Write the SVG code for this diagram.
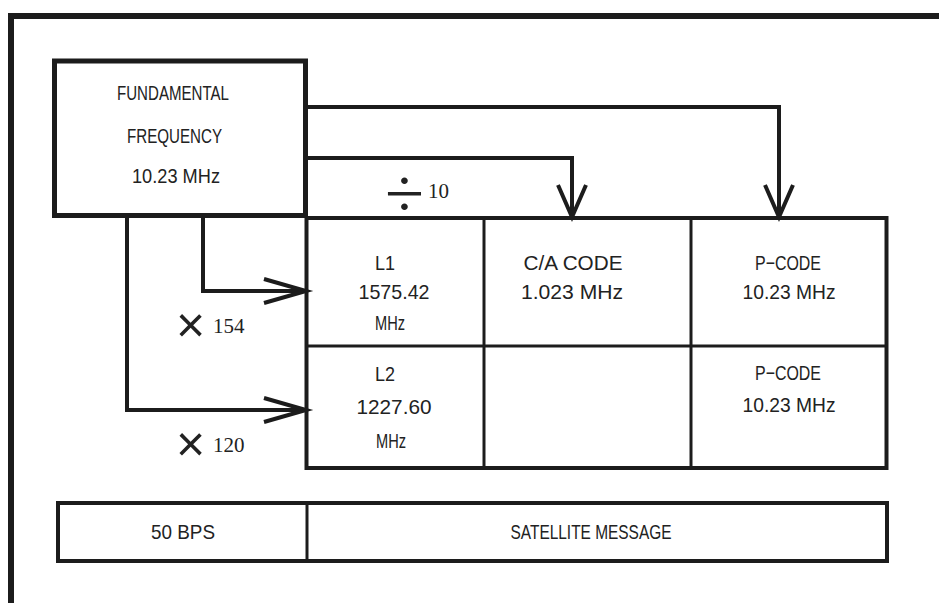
<svg xmlns="http://www.w3.org/2000/svg" width="939" height="603" viewBox="0 0 939 603">
<style>
.frame{fill:none;stroke:#1c1c1c;stroke-width:6}
.box{fill:none;stroke:#1c1c1c;stroke-width:5}
.tbl{fill:none;stroke:#1c1c1c;stroke-width:4}
.div{fill:none;stroke:#1c1c1c;stroke-width:3}
.wire{fill:none;stroke:#1c1c1c;stroke-width:4}
.t{font-family:"Liberation Sans",Arial,sans-serif;font-size:21px;fill:#222;text-anchor:middle}
.s{font-family:"Liberation Serif","Times New Roman",serif;font-size:21px;fill:#222}
.sym{font-family:"Liberation Sans",Arial,sans-serif;fill:#222}
</style>
<defs>
<marker id="arrR" markerUnits="userSpaceOnUse" markerWidth="60" markerHeight="60" refX="0" refY="0" viewBox="-50 -30 60 60" orient="auto" overflow="visible">
<path d="M-42,-12 L0,0 L-42,12" fill="none" stroke="#1c1c1c" stroke-width="4"/>
</marker>
<marker id="arrD" markerUnits="userSpaceOnUse" markerWidth="60" markerHeight="60" refX="0" refY="0" viewBox="-50 -30 60 60" orient="auto" overflow="visible">
<path d="M-32,-14 L0,0 L-32,14" fill="none" stroke="#1c1c1c" stroke-width="4"/>
</marker>
</defs>
<rect width="939" height="603" fill="#fff"/>
<path class="frame" d="M11,603 V16 H939"/>

<g id="fundamental">
<rect class="box" x="54.5" y="61" width="251" height="154.5"/>
<text class="t" x="173" y="100" textLength="112" lengthAdjust="spacingAndGlyphs">FUNDAMENTAL</text>
<text class="t" x="174.5" y="143" textLength="95" lengthAdjust="spacingAndGlyphs">FREQUENCY</text>
<text class="t" x="176" y="183" textLength="88" lengthAdjust="spacingAndGlyphs">10.23 MHz</text>
</g>

<g id="signal-table">
<rect class="tbl" x="306.5" y="218" width="580" height="250"/>
<line class="div" x1="484" y1="218" x2="484" y2="468"/>
<line class="div" x1="691" y1="218" x2="691" y2="468"/>
<line class="div" x1="306.5" y1="346" x2="886.5" y2="346"/>
</g>
<g id="l1">
<text class="t" x="385" y="270" textLength="20" lengthAdjust="spacingAndGlyphs">L1</text>
<text class="t" x="394" y="299" textLength="71" lengthAdjust="spacingAndGlyphs">1575.42</text>
<text class="t" x="390" y="330" textLength="30" lengthAdjust="spacingAndGlyphs">MHz</text>
</g>
<g id="ca-code">
<text class="t" x="573" y="270" textLength="99" lengthAdjust="spacingAndGlyphs">C/A CODE</text>
<text class="t" x="572" y="299" textLength="102" lengthAdjust="spacingAndGlyphs">1.023 MHz</text>
</g>
<g id="p-code-l1">
<text class="t" x="788" y="270" textLength="66" lengthAdjust="spacingAndGlyphs">P−CODE</text>
<text class="t" x="789" y="299" textLength="93" lengthAdjust="spacingAndGlyphs">10.23 MHz</text>
</g>
<g id="l2">
<text class="t" x="385" y="381" textLength="20" lengthAdjust="spacingAndGlyphs">L2</text>
<text class="t" x="394" y="414" textLength="75" lengthAdjust="spacingAndGlyphs">1227.60</text>
<text class="t" x="391" y="448" textLength="30" lengthAdjust="spacingAndGlyphs">MHz</text>
</g>
<g id="p-code-l2">
<text class="t" x="788" y="380" textLength="66" lengthAdjust="spacingAndGlyphs">P−CODE</text>
<text class="t" x="789" y="412" textLength="93" lengthAdjust="spacingAndGlyphs">10.23 MHz</text>
</g>

<g id="message">
<rect class="tbl" x="58" y="503" width="829" height="58"/>
<line class="div" x1="307" y1="503" x2="307" y2="561"/>
<text class="t" x="183" y="539" textLength="64" lengthAdjust="spacingAndGlyphs">50 BPS</text>
<text class="t" x="591" y="539" textLength="161" lengthAdjust="spacingAndGlyphs">SATELLITE MESSAGE</text>
</g>

<g id="connectors">
<path class="wire" d="M305,107 H779 V217" marker-end="url(#arrD)"/>
<path class="wire" d="M305,158 H572 V217" marker-end="url(#arrD)"/>
<path class="wire" d="M203,215 V291 H306" marker-end="url(#arrR)"/>
<path class="wire" d="M127,215 V410 H306" marker-end="url(#arrR)"/>
<text class="s" x="385" y="217" style="font-size:70px" textLength="39" lengthAdjust="spacingAndGlyphs">÷</text>
<text class="s" x="428" y="198">10</text>
<text class="sym" x="176" y="342" style="font-size:50px">×</text>
<text class="s" x="213" y="333">154</text>
<text class="sym" x="176" y="461" style="font-size:50px">×</text>
<text class="s" x="213" y="452">120</text>
</g>
</svg>
